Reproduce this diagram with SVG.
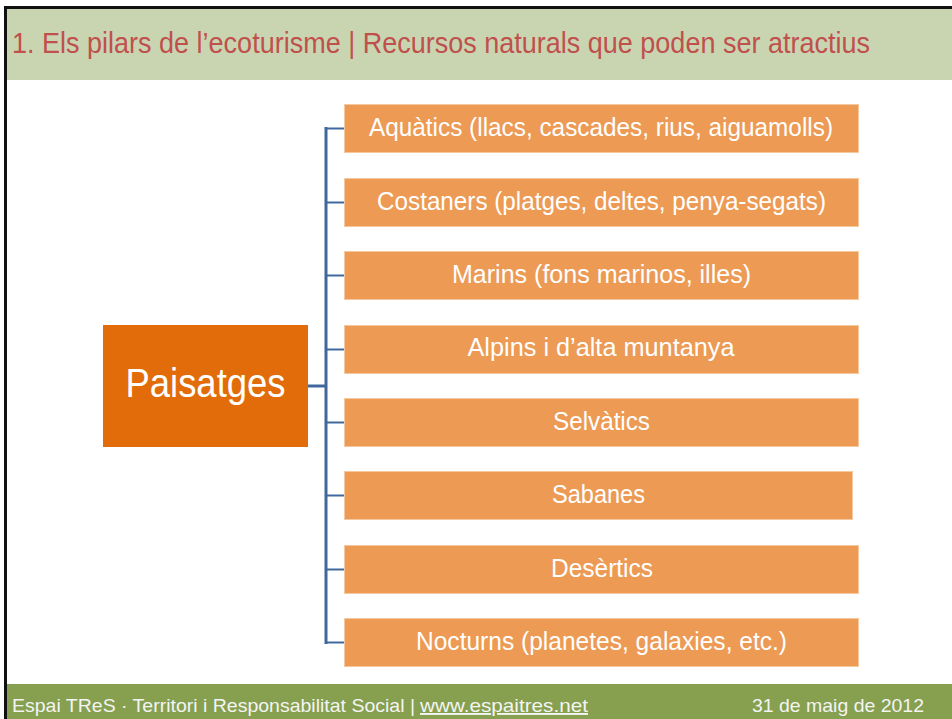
<svg xmlns="http://www.w3.org/2000/svg" width="952" height="719" viewBox="0 0 952 719">
<style>
.box{fill:#EC9A54;stroke:#F5C8A0;stroke-width:1}
.bt{font-family:"Liberation Sans",Arial,sans-serif;font-size:25.5px;fill:#FFFFFF;text-anchor:middle}
.conn{stroke:#41689C;fill:none}
.ft{font-family:"Liberation Sans",Arial,sans-serif;font-size:19px;fill:#F4F4F4}
</style>
<rect x="0" y="0" width="952" height="719" fill="#FFFFFF"/>
<rect x="7" y="9" width="945" height="71" fill="#C9D5B1"/>
<rect x="7" y="684" width="945" height="35" fill="#86A04F"/>
<line x1="4" y1="7.5" x2="952" y2="7.5" stroke="#111" stroke-width="3"/>
<line x1="5.5" y1="6" x2="5.5" y2="719" stroke="#111" stroke-width="3"/>
<text x="12" y="53" font-family="Liberation Sans, Arial, sans-serif" font-size="29" fill="#C0504D" textLength="858" lengthAdjust="spacingAndGlyphs">1. Els pilars de l’ecoturisme | Recursos naturals que poden ser atractius</text>
<g id="connectors">
<line class="conn" x1="326" y1="127" x2="326" y2="644" stroke-width="3"/>
<line class="conn" x1="308" y1="386" x2="326" y2="386" stroke-width="3"/>
<line class="conn" x1="326" y1="128.5" x2="344" y2="128.5" stroke-width="2"/>
<line class="conn" x1="326" y1="202.5" x2="344" y2="202.5" stroke-width="2"/>
<line class="conn" x1="326" y1="275.5" x2="344" y2="275.5" stroke-width="2"/>
<line class="conn" x1="326" y1="349.5" x2="344" y2="349.5" stroke-width="2"/>
<line class="conn" x1="326" y1="422.5" x2="344" y2="422.5" stroke-width="2"/>
<line class="conn" x1="326" y1="495.5" x2="344" y2="495.5" stroke-width="2"/>
<line class="conn" x1="326" y1="569.5" x2="344" y2="569.5" stroke-width="2"/>
<line class="conn" x1="326" y1="642.5" x2="344" y2="642.5" stroke-width="2"/>
</g>
<g id="paisatges">
<rect x="103" y="325" width="205" height="122" fill="#E36C0A"/>
<text x="205.5" y="397" font-family="Liberation Sans, Arial, sans-serif" font-size="41" fill="#FFFFFF" text-anchor="middle" textLength="160" lengthAdjust="spacingAndGlyphs">Paisatges</text>
</g>
<g id="aquatics"><rect class="box" x="344.5" y="104.5" width="514" height="48"/><text class="bt" x="601" y="136" textLength="464" lengthAdjust="spacingAndGlyphs">Aquàtics (llacs, cascades, rius, aiguamolls)</text></g>
<g id="costaners"><rect class="box" x="344.5" y="178.5" width="514" height="48"/><text class="bt" x="601.5" y="210" textLength="449" lengthAdjust="spacingAndGlyphs">Costaners (platges, deltes, penya-segats)</text></g>
<g id="marins"><rect class="box" x="344.5" y="251.5" width="514" height="48"/><text class="bt" x="601.5" y="283" textLength="299" lengthAdjust="spacingAndGlyphs">Marins (fons marinos, illes)</text></g>
<g id="alpins"><rect class="box" x="344.5" y="325.5" width="514" height="48"/><text class="bt" x="601" y="356" textLength="267" lengthAdjust="spacingAndGlyphs">Alpins i d’alta muntanya</text></g>
<g id="selvatics"><rect class="box" x="344.5" y="398.5" width="514" height="48"/><text class="bt" x="601.5" y="430" textLength="97" lengthAdjust="spacingAndGlyphs">Selvàtics</text></g>
<g id="sabanes"><rect class="box" x="344.5" y="471.5" width="508" height="48"/><text class="bt" x="598.5" y="503" textLength="93" lengthAdjust="spacingAndGlyphs">Sabanes</text></g>
<g id="desertics"><rect class="box" x="344.5" y="545.5" width="514" height="48"/><text class="bt" x="602" y="577" textLength="102" lengthAdjust="spacingAndGlyphs">Desèrtics</text></g>
<g id="nocturns"><rect class="box" x="344.5" y="618.5" width="514" height="48"/><text class="bt" x="601.5" y="650" textLength="371" lengthAdjust="spacingAndGlyphs">Nocturns (planetes, galaxies, etc.)</text></g>
<text class="ft" x="12" y="712" textLength="403" lengthAdjust="spacingAndGlyphs">Espai TReS · Territori i Responsabilitat Social |</text>
<text class="ft" x="420" y="712" textLength="168" lengthAdjust="spacingAndGlyphs" text-decoration="underline">www.espaitres.net</text>
<text class="ft" x="752" y="712" textLength="172" lengthAdjust="spacingAndGlyphs">31 de maig de 2012</text>
</svg>
